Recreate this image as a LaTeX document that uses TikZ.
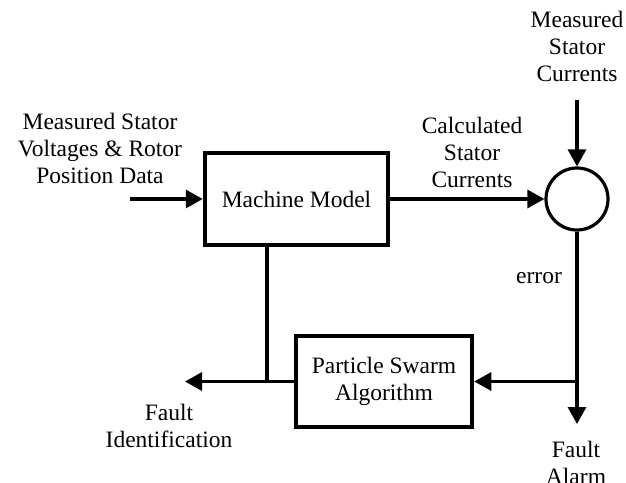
\documentclass[tikz,border=0pt]{standalone}
\usepackage{fontspec}
\setmainfont{Liberation Serif}
\usetikzlibrary{arrows.meta}
\begin{document}
\begin{tikzpicture}[x=1pt,y=-1pt,
  txt/.style={inner sep=0pt,align=center,font=\fontsize{23.5}{27}\selectfont},
  blk/.style={draw,line width=4.5pt,inner sep=0pt,font=\fontsize{23.5}{27}\selectfont,align=center},
  conn/.style={line width=3.2pt},
  arr/.style={conn,-{Triangle[length=17pt,width=18pt]}}]
\useasboundingbox (0,0) rectangle (626,482);
\node[blk,minimum width=183pt,minimum height=92pt] (mm) at (296.5,199) {Machine Model};
\node[blk,minimum width=176pt,minimum height=91pt] (psa) at (384,381.5) {Particle Swarm\\Algorithm};
\node[draw,circle,line width=3.2pt,minimum size=62pt,inner sep=0pt] (sum) at (577,199) {};
\node[txt] (tin) at (100,148) {Measured Stator\\Voltages \& Rotor\\Position Data};
\node[txt] (tcalc) at (472,152) {Calculated\\Stator\\Currents};
\node[txt] (tmeas) at (577,46) {Measured\\Stator\\Currents};
\node[txt] (terr) at (539,278) {error};
\node[txt] (talarm) at (576,463) {Fault\\Alarm};
\node[txt] (tid) at (169,426) {Fault\\Identification};
\coordinate (in) at (130,199);
\coordinate (top) at (577,100);
\coordinate (j) at (577,381.5);
\coordinate (alarm) at (577,424);
\coordinate (fid) at (185,381.5);
\coordinate (k) at (267,381.5);
\draw[arr] (in) -- (mm.west);
\draw[arr] (mm.east) -- (sum.west);
\draw[arr] (top) -- (sum.north);
\draw[conn] (sum.south) -- (j);
\draw[arr] (j) -- (alarm);
\draw[arr] (j) -- (psa.east);
\draw[arr] (psa.west) -- (fid);
\draw[conn] (mm.south -| k) -- (k);
\end{tikzpicture}
\end{document}
